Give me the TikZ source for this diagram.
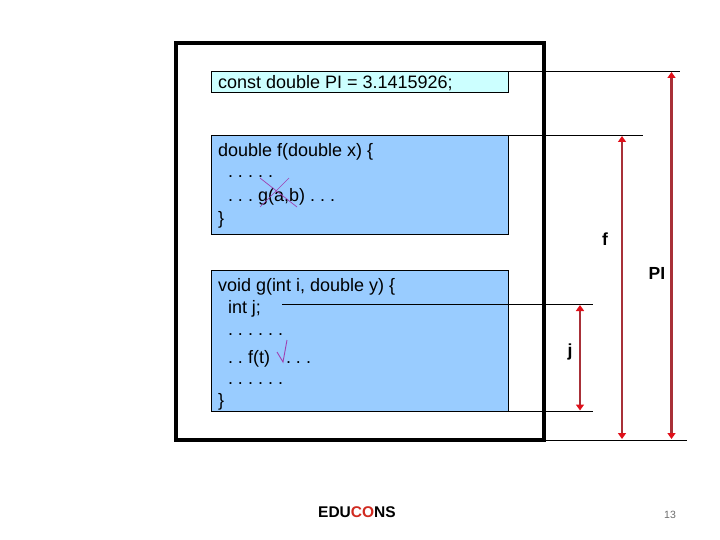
\documentclass[tikz,border=0pt]{standalone}
\usepackage{fontspec}
\setmainfont{Liberation Sans}
\usetikzlibrary{arrows.meta}
\definecolor{boxblue}{HTML}{99CCFF}
\definecolor{boxcyan}{HTML}{CCFFFF}
\definecolor{dimred}{HTML}{A83038}
\definecolor{tipred}{HTML}{E0101A}
\definecolor{markpurple}{HTML}{A040B0}
\definecolor{logored}{HTML}{D02A20}
\tikzset{
  x=1pt,y=-1pt,
  codebox/.style={draw=black,line width=1pt,inner sep=0pt,outer sep=0pt,anchor=north west},
  code/.style={anchor=base west,inner sep=0pt,outer sep=0pt,font=\frenchspacing\fontsize{18}{20}\selectfont,text=black},
  guide/.style={draw=black,line width=0.9pt},
  dim/.style={draw=dimred,line width=2.2pt,{Triangle[color=tipred,length=6pt,width=8pt]}-{Triangle[color=tipred,length=6pt,width=8pt]}},
  lab/.style={inner sep=0pt,font=\bfseries\fontsize{17.5}{20}\selectfont}
}
\begin{document}
\begin{tikzpicture}
\useasboundingbox (0,0) rectangle (720,540);
\node[draw=black,line width=4pt,minimum width=368pt,minimum height=397pt,anchor=north west,inner sep=0pt,outer sep=0pt] (frame) at (176,43) {};
\node[codebox,fill=boxcyan,minimum width=297pt,minimum height=21pt] (pi) at (211.5,71.5) {};
\node[codebox,fill=boxblue,minimum width=297pt,minimum height=99pt] (fbox) at (211.5,135.5) {};
\node[codebox,fill=boxblue,minimum width=297pt,minimum height=141pt] (gbox) at (211.5,270.5) {};
\node[code] (t1) at (218,89) {const double PI = 3.1415926;};
\node[code] (t2) at (218,157) {double f(double x) \{};
\node[code] (t3) at (218,178) {\ \ . . . . .};
\node[code] (t4) at (218,202) {\ \ . . . g(a,b) . . .};
\node[code] (t5) at (218,225) {\}};
\node[code] (t6) at (218,291) {void g(int i, double y) \{};
\node[code] (t7) at (218,313) {\ \ int j;};
\node[code] (t8) at (218,335) {\ \ . . . . . .};
\node[code] (t9) at (218,363) {\ \ . . f(t)};
\node[code] (t9b) at (286,363) {. . .};
\node[code] (t10) at (218,384) {\ \ . . . . . .};
\node[code] (t11) at (218,406) {\}};
% crosses and tick
\draw[markpurple,line width=0.7pt] (260,178) -- (297,207);
\draw[markpurple,line width=0.7pt] (260,207) -- (289,178);
\draw[markpurple,line width=0.9pt] (277,352) -- (283,362) -- (287,340);
% guides
\coordinate (a1) at (680,71.5);
\coordinate (a2) at (643,135.5);
\coordinate (a3a) at (282,304.5);
\coordinate (a3b) at (593,304.5);
\coordinate (a4) at (593,411);
\coordinate (a5) at (546,440.5);
\coordinate (a6) at (687,440.5);
\coordinate (s1) at (508,71.5);
\coordinate (s2) at (508,135.5);
\coordinate (s4) at (508,411);
\draw[guide] (s1) -- (a1);
\draw[guide] (s2) -- (a2);
\draw[guide] (a3a) -- (a3b);
\draw[guide] (s4) -- (a4);
\draw[guide] (a5) -- (a6);
% dimension arrows
\coordinate (d1t) at (671.5,72);
\coordinate (d1b) at (671.5,439);
\coordinate (d2t) at (622,136);
\coordinate (d2b) at (622,439);
\coordinate (d3t) at (580,305);
\coordinate (d3b) at (580,410.5);
\draw[dim] (d1t) -- (d1b);
\draw[dim] (d2t) -- (d2b);
\draw[dim] (d3t) -- (d3b);
\node[lab] (lf) at (605,239) {f};
\node[lab] (lpi) at (657,273) {PI};
\node[lab] (lj) at (570,352) {j};
\node[inner sep=0pt,anchor=west,font=\bfseries\fontsize{15.5}{18}\selectfont] (logo) at (318,512) {EDU\textcolor{logored}{CO}NS};
\node[inner sep=0pt,text=gray!85!black,font=\fontsize{10.5}{12}\selectfont] (page) at (670,515) {13};
\end{tikzpicture}
\end{document}
